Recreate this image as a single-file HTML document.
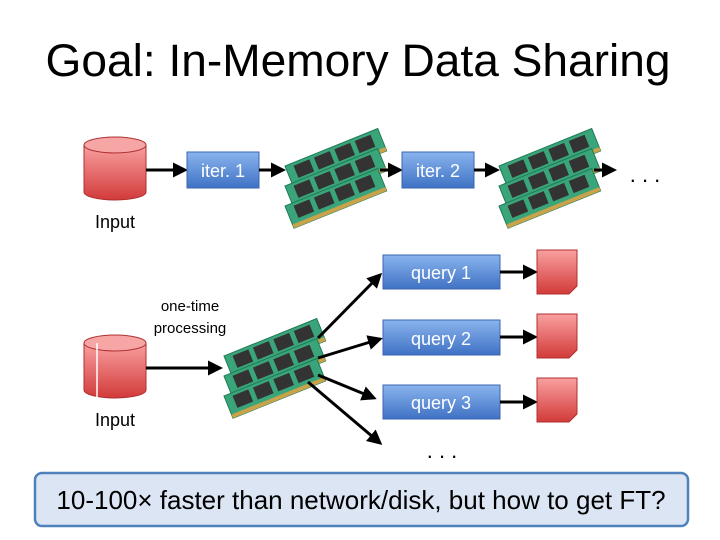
<!DOCTYPE html>
<html><head><style>
body{margin:0;background:#fff;}
svg{display:block}
text{font-family:"Liberation Sans",sans-serif}
</style></head><body>
<svg width="720" height="540" viewBox="0 0 720 540" xmlns="http://www.w3.org/2000/svg">
<defs>
<linearGradient id="red" x1="0" y1="0" x2="0" y2="1"><stop offset="0" stop-color="#f9a0a0"/><stop offset="1" stop-color="#d23a3a"/></linearGradient>
<linearGradient id="blue" x1="0" y1="0" x2="0" y2="1"><stop offset="0" stop-color="#8ab4ee"/><stop offset="1" stop-color="#3f72c4"/></linearGradient>
<marker id="ah" markerWidth="5" markerHeight="5" refX="4" refY="2.5" orient="auto" markerUnits="strokeWidth"><path d="M0,0 L5,2.5 L0,5 z" fill="#000"/></marker>
<g id="stick">
<rect x="0" y="0" width="100" height="24" fill="#3aa57a" stroke="#1f7a55" stroke-width="1"/>
<rect x="0" y="20" width="100" height="4" fill="#c9a24a"/>
<rect x="8" y="3" width="17" height="13" fill="#333"/>
<rect x="30" y="3" width="17" height="13" fill="#333"/>
<rect x="52" y="3" width="17" height="13" fill="#333"/>
<rect x="74" y="3" width="17" height="13" fill="#333"/>
</g>
<g id="mem">
<use href="#stick" transform="translate(2,38) rotate(-22)"/>
<use href="#stick" transform="translate(2,58) rotate(-22)"/>
<use href="#stick" transform="translate(2,78) rotate(-22)"/>
</g>
<g id="cyl">
<path d="M0,8 L0,55 A31,8 0 0 0 62,55 L62,8" fill="url(#red)" stroke="#b03030"/>
<ellipse cx="31" cy="8" rx="31" ry="8" fill="#f7a6a6" stroke="#b03030"/>
</g>
<g id="doc"><path d="M0,0 H40 V36 L32,44 H0 Z" fill="url(#red)" stroke="#b03030"/></g>
</defs>

<text x="358" y="76" text-anchor="middle" font-size="45" fill="#000" textLength="625" lengthAdjust="spacingAndGlyphs">Goal: In-Memory Data Sharing</text>

<use href="#cyl" x="84" y="137"/>
<text x="115" y="228" text-anchor="middle" font-size="18">Input</text>
<line x1="146" y1="170" x2="185" y2="170" stroke="#000" stroke-width="3" marker-end="url(#ah)"/>
<rect x="187" y="152" width="72" height="36" fill="url(#blue)" stroke="#3a66b0"/>
<text x="223" y="177" text-anchor="middle" font-size="18" fill="#fff">iter. 1</text>
<line x1="259" y1="170" x2="283" y2="170" stroke="#000" stroke-width="3" marker-end="url(#ah)"/>
<use href="#mem" x="283" y="128"/>
<line x1="380" y1="170" x2="400" y2="170" stroke="#000" stroke-width="3" marker-end="url(#ah)"/>
<rect x="402" y="152" width="72" height="36" fill="url(#blue)" stroke="#3a66b0"/>
<text x="438" y="177" text-anchor="middle" font-size="18" fill="#fff">iter. 2</text>
<line x1="474" y1="170" x2="497" y2="170" stroke="#000" stroke-width="3" marker-end="url(#ah)"/>
<use href="#mem" x="497" y="128"/>
<line x1="594" y1="170" x2="614" y2="170" stroke="#000" stroke-width="3" marker-end="url(#ah)"/>
<text x="645" y="182" text-anchor="middle" font-size="22">. . .</text>

<text x="190" y="311" text-anchor="middle" font-size="15">one-time</text>
<text x="190" y="333" text-anchor="middle" font-size="15">processing</text>
<use href="#cyl" x="84" y="335"/>
<line x1="97" y1="343" x2="97" y2="398" stroke="#fff" stroke-width="1.5"/>
<text x="115" y="426" text-anchor="middle" font-size="18">Input</text>
<line x1="146" y1="368" x2="220" y2="368" stroke="#000" stroke-width="3" marker-end="url(#ah)"/>
<use href="#mem" x="222" y="318"/>

<line x1="318" y1="338" x2="380" y2="275" stroke="#000" stroke-width="3" marker-end="url(#ah)"/>
<line x1="318" y1="358" x2="380" y2="339" stroke="#000" stroke-width="3" marker-end="url(#ah)"/>
<line x1="318" y1="375" x2="374" y2="398" stroke="#000" stroke-width="3" marker-end="url(#ah)"/>
<line x1="308" y1="382" x2="380" y2="443" stroke="#000" stroke-width="3" marker-end="url(#ah)"/>

<rect x="383" y="255" width="117" height="34" fill="url(#blue)" stroke="#3a66b0"/>
<text x="441" y="279" text-anchor="middle" font-size="18" fill="#fff">query 1</text>
<rect x="383" y="320" width="117" height="35" fill="url(#blue)" stroke="#3a66b0"/>
<text x="441" y="345" text-anchor="middle" font-size="18" fill="#fff">query 2</text>
<rect x="383" y="385" width="117" height="34" fill="url(#blue)" stroke="#3a66b0"/>
<text x="441" y="409" text-anchor="middle" font-size="18" fill="#fff">query 3</text>
<line x1="500" y1="272" x2="535" y2="272" stroke="#000" stroke-width="3" marker-end="url(#ah)"/>
<line x1="500" y1="337" x2="535" y2="337" stroke="#000" stroke-width="3" marker-end="url(#ah)"/>
<line x1="500" y1="402" x2="535" y2="402" stroke="#000" stroke-width="3" marker-end="url(#ah)"/>
<use href="#doc" x="537" y="250"/>
<use href="#doc" x="537" y="314"/>
<use href="#doc" x="537" y="378"/>
<text x="442" y="458" text-anchor="middle" font-size="22">. . .</text>

<rect x="35" y="473" width="653" height="53" rx="7" fill="#dbe5f3" stroke="#4f81bd" stroke-width="2.5"/>
<text x="361" y="509" text-anchor="middle" font-size="26">10-100× faster than network/disk, but how to get FT?</text>
</svg>
</body></html>
